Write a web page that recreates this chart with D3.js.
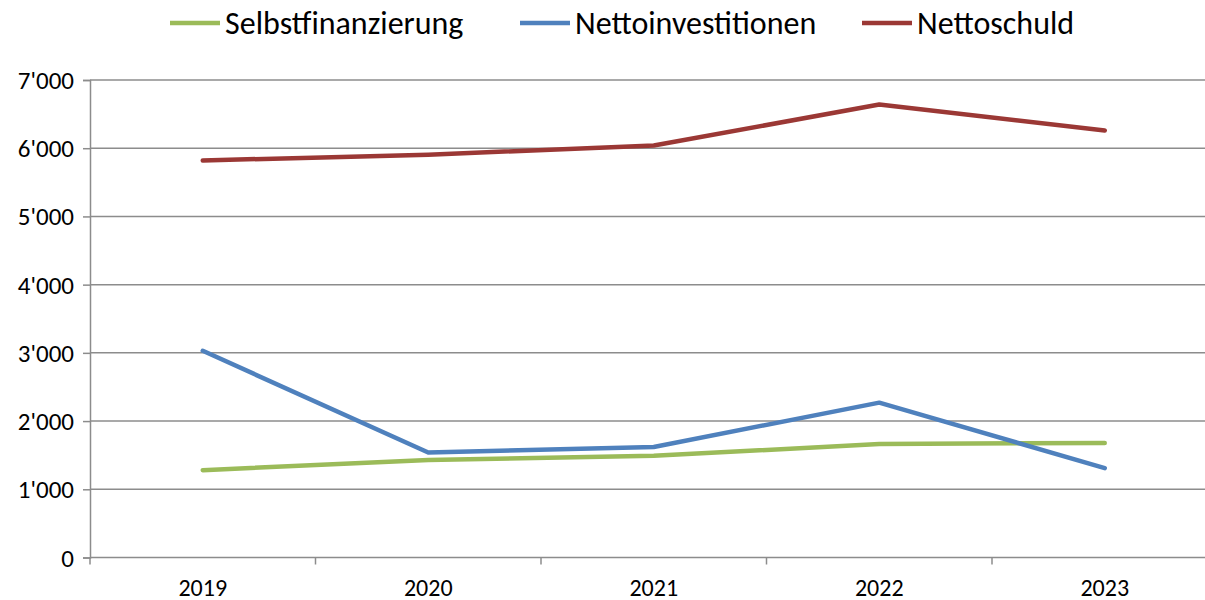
<!DOCTYPE html>
<html>
<head>
<meta charset="utf-8">
<script src="https://cdn.jsdelivr.net/npm/d3@7"></script>
<style>
  body { margin: 0; background: #fff; }
  svg text { font-family: Carlito, "Liberation Sans Narrow", "Open Sans", sans-serif; fill: #000; }
</style>
</head>
<body>
<svg id="chart" width="1205" height="600"></svg>
<script>
// data
var years = ["2019", "2020", "2021", "2022", "2023"];
var selbstfinanzierung = [1280, 1430, 1490, 1665, 1680];
var nettoinvestitionen = [3030, 1540, 1620, 2270, 1310];
var nettoschuld = [5820, 5905, 6040, 6640, 6260];
var yTicks = [0, 1000, 2000, 3000, 4000, 5000, 6000, 7000];

var series = [
  {name: "Selbstfinanzierung", values: selbstfinanzierung, color: "#9bbb59"},
  {name: "Nettoinvestitionen", values: nettoinvestitionen, color: "#4f81bd"},
  {name: "Nettoschuld", values: nettoschuld, color: "#9b3835"}
];

var svg = d3.select("#chart"),
    margin = {top: 80, left: 90},
    plotW = 1127.5,
    plotH = 477.5;

var g = svg.append("g").attr("transform", "translate(" + margin.left + "," + margin.top + ")");

var x = d3.scaleBand().domain(years).range([0, plotW]);
var y = d3.scaleLinear().domain([0, 7000]).range([plotH, 0]);

var fmt = function(d) { return d3.format(",")(d).replace(/,/g, "'"); };

// gridlines
g.append("g")
  .selectAll("line")
  .data(yTicks.slice(1))
  .enter().append("line")
  .attr("x1", 0)
  .attr("x2", plotW)
  .attr("y1", function(d) { return y(d); })
  .attr("y2", function(d) { return y(d); })
  .attr("stroke", "#8c8c8c")
  .attr("stroke-width", 1.5);

// y axis
var yAxis = g.append("g")
  .call(d3.axisLeft(y).tickValues(yTicks).tickFormat(fmt).tickSize(7).tickPadding(9));
yAxis.select(".domain").attr("stroke", "#8c8c8c").attr("stroke-width", 1.5);
yAxis.selectAll(".tick line").attr("stroke", "#8c8c8c").attr("stroke-width", 1.5);
yAxis.selectAll(".tick text").style("font-size", "25px").attr("dy", "0.34em");

// x axis, ticks sit between the categories
var xAxis = g.append("g").attr("transform", "translate(0," + plotH + ")");
xAxis.append("line")
  .attr("x1", 0).attr("x2", plotW)
  .attr("stroke", "#8c8c8c").attr("stroke-width", 1.5);
xAxis.selectAll(".sep")
  .data(years)
  .enter().append("line")
  .attr("class", "sep")
  .attr("x1", function(d) { return x(d); })
  .attr("x2", function(d) { return x(d); })
  .attr("y1", 0).attr("y2", 7)
  .attr("stroke", "#8c8c8c").attr("stroke-width", 1.5);
xAxis.selectAll(".lab")
  .data(years)
  .enter().append("text")
  .attr("class", "lab")
  .attr("x", function(d) { return x(d) + x.bandwidth() / 2; })
  .attr("y", 30)
  .attr("dy", "0.34em")
  .attr("text-anchor", "middle")
  .style("font-size", "24px")
  .text(function(d) { return d; });

// lines
var line = d3.line()
  .x(function(d, i) { return x(years[i]) + x.bandwidth() / 2; })
  .y(function(d) { return y(d); });

g.selectAll(".serie")
  .data(series)
  .enter().append("path")
  .attr("class", "serie")
  .attr("fill", "none")
  .attr("stroke", function(d) { return d.color; })
  .attr("stroke-width", 4.5)
  .attr("stroke-linejoin", "round")
  .attr("stroke-linecap", "round")
  .attr("d", function(d) { return line(d.values); });

// legend
var legendX = [170, 520, 862];
var legend = svg.selectAll(".legend")
  .data(series)
  .enter().append("g")
  .attr("class", "legend")
  .attr("transform", function(d, i) { return "translate(" + legendX[i] + ",23)"; });

legend.append("line")
  .attr("x1", 0).attr("x2", 50)
  .attr("stroke", function(d) { return d.color; })
  .attr("stroke-width", 4.5);

legend.append("text")
  .attr("x", 55)
  .attr("dy", "0.34em")
  .style("font-size", "32px")
  .text(function(d) { return d.name; });
</script>
</body>
</html>
